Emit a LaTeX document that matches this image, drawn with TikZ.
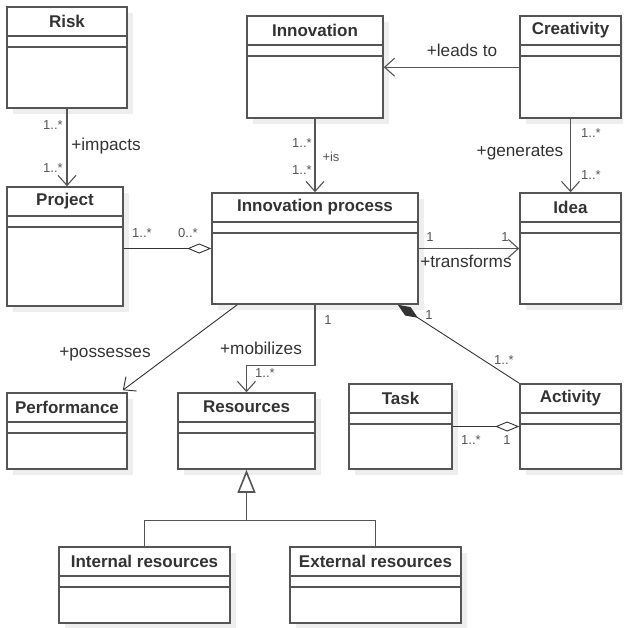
\documentclass[tikz,border=0pt]{standalone}
\usepackage{fontspec}
\setmainfont{Liberation Sans}
\usetikzlibrary{arrows.meta,calc,fit}

\definecolor{linec}{HTML}{555555}
\definecolor{textc}{HTML}{333333}
\definecolor{shadec}{HTML}{EEEEEE}

\tikzset{
  clsbox/.style={draw=linec, line width=0.8pt, fill=white, inner sep=0pt},
  clstitle/.style={font=\fontsize{8.5}{10}\selectfont\bfseries, text=textc, inner sep=0pt},
  role/.style={font=\fontsize{8.6}{10}\selectfont, text=textc, inner sep=0pt},
  mult/.style={font=\fontsize{6.5}{8}\selectfont, text=linec, inner sep=0pt},
  assoc/.style={draw=linec, line width=0.55pt, -{Straight Barb[length=5pt,width=9pt]}},
  aggr/.style={draw=black!80, line width=0.45pt, -{Diamond[open,length=12pt,width=5pt]}},
  compo/.style={draw=black!80, line width=0.45pt, -{Diamond[length=12pt,width=5pt]}},
  gener/.style={draw=linec, line width=0.8pt, -{Triangle[open,length=11.5pt,width=9pt]}}
}

\newcommand{\umlclass}[6]{%
  \fill[shadec] (#2+6,#3+6) rectangle (#4+6,#5+6);
  \node[clsbox, fit={(#2,#3) (#4,#5)}] (#1) {};
  \draw[linec, line width=0.8pt] ($(#1.north west)+(0,30)$) -- ($(#1.north east)+(0,30)$)
    ($(#1.north west)+(0,41)$) -- ($(#1.north east)+(0,41)$);
  \node[clstitle] (#1-title) at ($(#1.north)+(0,15)$) {#6};
}

\begin{document}
\begin{tikzpicture}[x=0.5pt, y=-0.5pt]
  \clip (0,0) rectangle (623,628);
  \umlclass{risk}{7}{7}{127}{108}{Risk}
  \umlclass{innov}{247}{16}{383}{118}{Innovation}
  \umlclass{creat}{520}{16}{621}{118}{Creativity}
  \umlclass{project}{7}{187}{123}{306}{Project}
  \umlclass{ip}{212}{193}{418}{304}{Innovation process}
  \umlclass{idea}{520}{193}{621}{304}{Idea}
  \umlclass{perf}{7}{393}{127}{469}{Performance}
  \umlclass{res}{178}{393}{315}{469}{Resources}
  \umlclass{task}{349}{384}{452}{469}{Task}
  \umlclass{act}{520}{384}{621}{469}{Activity}
  \umlclass{intres}{59}{547}{230}{623}{Internal resources}
  \umlclass{extres}{290}{547}{461}{623}{External resources}

  \draw[assoc] (risk.south) -- (risk.south |- project.north);
  \node[mult] (riskm1) at (53,125) {1..*}; \node[role] (impacts) at (106,146) {+impacts}; \node[mult] (riskm2) at (53,168) {1..*};

  \draw[assoc] (innov.south) -- (innov.south |- ip.north);
  \node[mult] (innovm1) at (302,143) {1..*}; \node[mult] (is) at (331,157) {+is}; \node[mult] (innovm2) at (302,170) {1..*};

  \draw[assoc] ($(creat.north west)+(0,52)$) -- ($(innov.north east)+(0,52)$);
  \node[role] (leadsto) at (462,50) {+leads to};

  \draw[assoc] (creat.south) -- (creat.south |- idea.north);
  \node[mult] (creatm1) at (591,133) {1..*}; \node[role] (generates) at (520,153) {+generates}; \node[mult] (creatm2) at (591,175) {1..*};

  \draw[aggr] (project.east |- ip.west) -- (ip.west);
  \node[mult] (projm1) at (142,233) {1..*}; \node[mult] (projm2) at (188,233) {0..*};

  \draw[assoc] (ip.east) -- (idea.west);
  \node[mult] (ideam1) at (430,237) {1}; \node[mult] (ideam2) at (505,237) {1}; \node[role] (transforms) at (466,261) {+transforms};

  \draw[assoc, draw=black!80, line width=0.45pt] ($(ip.south west)+(26,0)$) -- ($(perf.north east)+(-5,-2)$);
  \node[role] (possesses) at (105,354) {+possesses};

  \draw[assoc] (ip.south) -- ++(0,61) -| (res.north);
  \node[role] (mobilizes) at (261,348) {+mobilizes}; \node[mult] (resm1) at (328,320) {1}; \node[mult] (resm2) at (265,373) {1..*};

  \draw[compo] (act.north west) -- ($(ip.south east)+(-21,0)$);
  \node[mult] (actm1) at (429,315) {1}; \node[mult] (actm2) at (504,360) {1..*};

  \draw[aggr] (task.east) -- (act.west);
  \node[mult] (taskm1) at (471,440) {1..*}; \node[mult] (taskm2) at (507,440) {1};

  \coordinate (gen) at ($(res.south)+(0,51)$);
  \draw[linec, line width=0.55pt] (intres.north) |- (gen) -| (extres.north);
  \draw[gener] (gen) -- (res.south);
\end{tikzpicture}
\end{document}
